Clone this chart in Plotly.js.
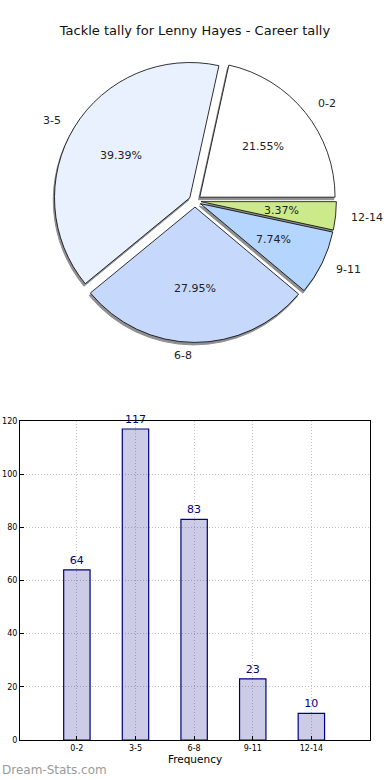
<!DOCTYPE html>
<html>
<head>
<meta charset="utf-8">
<script src="https://cdn.plot.ly/plotly-3.0.1.min.js"></script>
<style>html,body{margin:0;padding:0;background:#fff}#chart{width:390px;height:780px}</style>
</head>
<body>
<div id="chart"></div>
<script>
const categories = ["0-2", "3-5", "6-8", "9-11", "12-14"];
const tallies = [64, 117, 83, 23, 10];
const sliceColors = ["#ffffff", "#e9f0fe", "#c6d9fd", "#b4d5fe", "#cdea8a"];
const titleText = "Tackle tally for Lenny Hayes - Career tally";
const xTitle = "Frequency";
const yTicks = [0, 20, 40, 60, 80, 100, 120];

const font = "DejaVu Sans, sans-serif";
const W = 390, H = 780;
const M = {l: 20, r: 20, t: 40, b: 40};
const plotW = W - M.l - M.r, plotH = H - M.t - M.b;

const total = tallies.reduce((a, b) => a + b, 0);
// first slice starts at 3 o'clock and runs counterclockwise
const rot = 90 - 360 * tallies[0] / total;
const pullAmt = 0.045;
const pull = categories.map(() => pullAmt);
const pieDom = {x: [0, 1], y: [0.568, 0.972]};
const shift = {x: 2.5 / plotW, y: 2.5 / plotH};

// overlay axes centred on the pie, scaled so one unit equals the pie radius
const boxW = plotW * (pieDom.x[1] - pieDom.x[0]);
const boxH = plotH * (pieDom.y[1] - pieDom.y[0]);
const rPx = Math.min(boxW, boxH) / (2 + 2 * pullAmt);
const cxF = (pieDom.x[0] + pieDom.x[1]) / 2, cyF = (pieDom.y[0] + pieDom.y[1]) / 2;
const ovDom = {x: [0, 1], y: [0.5, 1]};
const ovRangeX = [(ovDom.x[0] - cxF) * plotW / rPx, (ovDom.x[1] - cxF) * plotW / rPx];
const ovRangeY = [(ovDom.y[0] - cyF) * plotH / rPx, (ovDom.y[1] - cyF) * plotH / rPx];

// slice mid-angles (counterclockwise from 3 o'clock)
let cum = 0;
const midAngles = tallies.map(v => { const a = 2 * Math.PI * (cum + v / 2) / total; cum += v; return a; });
const pctText = tallies.map(v => (100 * v / total).toFixed(2) + "%");

const pctAnn = midAngles.map((a, i) => ({
  xref: "x2", yref: "y2", showarrow: false,
  x: (pullAmt + 0.6) * Math.cos(a), y: (pullAmt + 0.6) * Math.sin(a),
  xanchor: "center", yanchor: "middle", text: pctText[i],
  font: {family: font, size: 11, color: "#222"}
}));
const labAnn = midAngles.map((a, i) => ({
  xref: "x2", yref: "y2", showarrow: false,
  x: (pullAmt + 1.1) * Math.cos(a), y: (pullAmt + 1.1) * Math.sin(a),
  xanchor: Math.cos(a) > 0 ? "left" : "right", yanchor: "middle", text: categories[i],
  font: {family: font, size: 11, color: "#222"}
}));

const shadow = {
  type: "pie", values: tallies, labels: categories, sort: false,
  direction: "counterclockwise", rotation: rot, pull: pull,
  marker: {colors: categories.map(() => "#8f8f8f"), line: {color: "#8f8f8f", width: 1}},
  textinfo: "none", hoverinfo: "skip", showlegend: false,
  domain: {x: [pieDom.x[0] - shift.x, pieDom.x[1] - shift.x], y: [pieDom.y[0] - shift.y, pieDom.y[1] - shift.y]}
};
const pie = {
  type: "pie", values: tallies, labels: categories, sort: false,
  direction: "counterclockwise", rotation: rot, pull: pull,
  marker: {colors: sliceColors, line: {color: "#000000", width: 0.8}},
  textinfo: "none",
  hoverinfo: "label+value+percent", showlegend: false, domain: pieDom
};
const overlayAnchor = {
  type: "scatter", mode: "markers", x: [], y: [],
  xaxis: "x2", yaxis: "y2", hoverinfo: "skip", showlegend: false
};
const bars = {
  type: "bar", x: categories, y: tallies, width: 0.45,
  marker: {color: "rgba(0,0,128,0.2)", line: {color: "#000080", width: 1.2}},
  text: tallies.map(String), textposition: "outside", cliponaxis: false,
  textfont: {family: font, size: 11, color: "#000080"},
  xaxis: "x", yaxis: "y", showlegend: false
};

const layout = {
  width: W, height: H,
  margin: M,
  paper_bgcolor: "#ffffff", plot_bgcolor: "#ffffff",
  font: {family: font, color: "#000"},
  title: {text: titleText, font: {family: font, size: 13, color: "#111"}, x: 0.5, xanchor: "center", y: 1 - 30 / H, yanchor: "middle"},
  xaxis: {
    domain: [0, 1], range: [-0.97, 5], type: "category",
    showgrid: true, gridcolor: "#c4c4c4", griddash: "1px,2px", gridwidth: 1,
    showline: true, mirror: true, linecolor: "#000", linewidth: 1,
    ticks: "inside", ticklen: 4, tickcolor: "#000",
    tickfont: {family: font, size: 8, color: "#000"},
    title: {text: xTitle, font: {family: font, size: 10.5, color: "#000"}, standoff: 4},
    zeroline: false, fixedrange: true
  },
  yaxis: {
    domain: [0, 319 / plotH], range: [0, 120], tickvals: yTicks,
    showgrid: true, gridcolor: "#c4c4c4", griddash: "1px,2px", gridwidth: 1,
    showline: true, mirror: true, linecolor: "#000", linewidth: 1,
    ticks: "inside", ticklen: 4, tickcolor: "#000",
    tickfont: {family: font, size: 8, color: "#000"},
    zeroline: false, fixedrange: true
  },
  xaxis2: {domain: ovDom.x, range: ovRangeX, visible: false, fixedrange: true, anchor: "y2"},
  yaxis2: {domain: ovDom.y, range: ovRangeY, visible: false, fixedrange: true, anchor: "x2"},
  annotations: pctAnn.concat(labAnn, [{
    text: "Dream-Stats.com", xref: "paper", yref: "paper",
    x: -M.l / plotW, y: -30 / plotH, xanchor: "left", yanchor: "middle", showarrow: false,
    font: {family: "DejaVu Sans, sans-serif", size: 12, color: "#9a9a9a"}
  }])
};

Plotly.newPlot("chart", [overlayAnchor, shadow, pie, bars], layout, {displayModeBar: false, staticPlot: true});
</script>
</body>
</html>
